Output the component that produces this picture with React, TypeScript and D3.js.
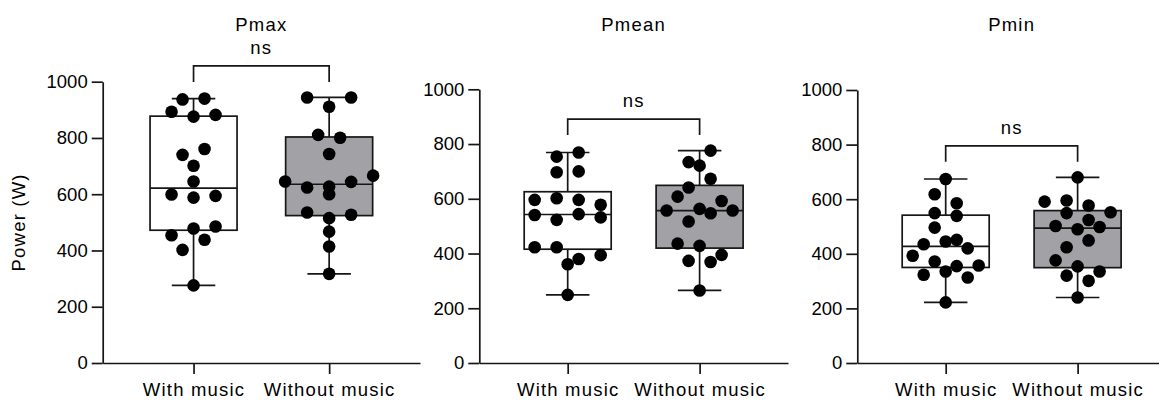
import React, { useEffect, useRef } from 'react';
import { select, scaleLinear, scalePoint, axisLeft, axisBottom, ascending, max } from 'd3';

const groups = ['With music', 'Without music'];
const panelTitles = ['Pmax', 'Pmean', 'Pmin'];
const sigLabels = ['ns', 'ns', 'ns'];
const yTicks = [0, 200, 400, 600, 800, 1000];
const yLabel = 'Power (W)';

// raw values per subject
const pmaxWith = [937, 940, 893, 876, 882, 740, 761, 701, 645, 599, 588, 594, 454, 478, 485, 402, 438, 276];
const pmaxWithout = [944, 911, 944, 811, 801, 743, 645, 624, 627, 644, 666, 600, 535, 515, 527, 467, 414, 317];
const pmeanWith = [754, 769, 697, 700, 596, 602, 596, 578, 541, 523, 544, 532, 423, 423, 380, 394, 361, 249];
const pmeanWithout = [734, 776, 721, 641, 673, 608, 563, 592, 557, 517, 547, 557, 436, 428, 395, 373, 369, 265];
const pminWith = [674, 618, 585, 549, 539, 496, 435, 445, 451, 420, 393, 372, 355, 357, 323, 335, 313, 222];
const pminWithout = [680, 591, 595, 577, 549, 552, 524, 502, 490, 498, 424, 449, 376, 354, 335, 320, 301, 240];

const panelData = [
  [pmaxWith, pmaxWithout],
  [pmeanWith, pmeanWithout],
  [pminWith, pminWithout],
];

// layout of each panel (plot frame in px)
const frames = [
  { left: 102.7, right: 420, top: 81.7, bottom: 363 },
  { left: 479.3, right: 788, top: 89.3, bottom: 363 },
  { left: 857.3, right: 1166, top: 90, bottom: 363 },
];

const W = 1159;
const H = 401;
const font = '"Liberation Sans", Arial, sans-serif';
const ink = '#161616';
const boxFills = ['#ffffff', '#a2a2a6'];
const dotR = 6.3;
const laneStep = 22;
const boxW = 87;

// GraphPad style quantile ((n+1)p)
const quant = (sorted: number[], p: number) => {
  const pos = p * (sorted.length + 1) - 1;
  const lo = Math.max(0, Math.min(sorted.length - 1, Math.floor(pos)));
  const hi = Math.min(sorted.length - 1, lo + 1);
  const t = Math.max(0, pos - Math.floor(pos));
  return sorted[lo] + (sorted[hi] - sorted[lo]) * t;
};

// simple row-binned swarm: rows of points closer than one diameter are spread symmetrically
const swarm = (values: number[], y: (v: number) => number) => {
  const order = values.map((_, i) => i).sort((a, b) => values[b] - values[a]);
  const off = new Array(values.length).fill(0);
  let k = 0;
  while (k < order.length) {
    const start = y(values[order[k]]);
    const row = [order[k]];
    k++;
    while (k < order.length && y(values[order[k]]) - start < 12.4) {
      row.push(order[k]);
      k++;
    }
    row.sort((a, b) => a - b);
    row.forEach((id, j) => (off[id] = (j - (row.length - 1) / 2) * laneStep));
  }
  return off;
};

export default function App() {
  const ref = useRef<SVGSVGElement>(null);

  useEffect(() => {
    const svg = select(ref.current);
    svg.selectAll('*').remove();

    frames.forEach((f, pi) => {
      const g = svg.append('g');
      const yScale = scaleLinear().domain([0, 1000]).range([f.bottom, f.top]);
      const xScale = scalePoint<string>().domain(groups).range([f.left, f.right]).padding(0.67);

      // y axis
      const yAxis = axisLeft(yScale)
        .tickValues(yTicks)
        .tickFormat((d) => String(d))
        .tickSize(11)
        .tickSizeOuter(0)
        .tickPadding(4);
      const ya = g.append('g').attr('transform', `translate(${f.left},0)`).call(yAxis);
      // x axis
      const xAxis = axisBottom(xScale).tickSize(11).tickSizeOuter(0).tickPadding(9);
      const xa = g.append('g').attr('transform', `translate(0,${f.bottom})`).call(xAxis);
      [ya, xa].forEach((a) => {
        a.select('.domain').attr('stroke', ink).attr('stroke-width', 1.7);
        a.selectAll('line').attr('stroke', ink).attr('stroke-width', 1.7);
        a.selectAll('text').attr('fill', '#000').style('font-size', '18.5px').style('font-family', font);
      });
      xa.selectAll('text').style('letter-spacing', '1.2px');

      // title
      g.append('text')
        .attr('x', (f.left + f.right) / 2)
        .attr('y', 30.5)
        .attr('text-anchor', 'middle')
        .style('font-family', font)
        .style('font-size', '18.5px')
        .style('letter-spacing', '1.2px')
        .text(panelTitles[pi]);

      // boxes, whiskers, dots
      panelData[pi].forEach((vals, gi) => {
        const cx = xScale(groups[gi]) as number;
        const sorted = [...vals].sort(ascending);
        const q1 = quant(sorted, 0.25);
        const med = quant(sorted, 0.5);
        const q3 = quant(sorted, 0.75);
        const lo = sorted[0];
        const hi = sorted[sorted.length - 1];

        const bx = g.append('g').attr('stroke', ink).attr('stroke-width', 1.7);
        bx.append('line').attr('x1', cx).attr('x2', cx).attr('y1', yScale(hi)).attr('y2', yScale(q3));
        bx.append('line').attr('x1', cx).attr('x2', cx).attr('y1', yScale(q1)).attr('y2', yScale(lo));
        bx.append('line').attr('x1', cx - boxW / 4).attr('x2', cx + boxW / 4).attr('y1', yScale(hi)).attr('y2', yScale(hi));
        bx.append('line').attr('x1', cx - boxW / 4).attr('x2', cx + boxW / 4).attr('y1', yScale(lo)).attr('y2', yScale(lo));
        bx.append('rect')
          .attr('x', cx - boxW / 2)
          .attr('width', boxW)
          .attr('y', yScale(q3))
          .attr('height', yScale(q1) - yScale(q3))
          .attr('fill', boxFills[gi]);
        bx.append('line').attr('x1', cx - boxW / 2).attr('x2', cx + boxW / 2).attr('y1', yScale(med)).attr('y2', yScale(med));

        const off = swarm(vals, yScale);
        g.append('g')
          .selectAll('circle')
          .data(vals)
          .join('circle')
          .attr('cx', (d, i) => cx + off[i])
          .attr('cy', (d) => yScale(d))
          .attr('r', dotR)
          .attr('fill', '#000');
      });

      // significance bracket
      const top = max(panelData[pi].flat()) as number;
      const legEnd = yScale(top) - 15.5;
      const barY = legEnd - 16;
      const x1 = xScale(groups[0]) as number;
      const x2 = xScale(groups[1]) as number;
      g.append('path')
        .attr('d', `M${x1},${legEnd}V${barY}H${x2}V${legEnd}`)
        .attr('fill', 'none')
        .attr('stroke', ink)
        .attr('stroke-width', 1.7);
      g.append('text')
        .attr('x', (x1 + x2) / 2)
        .attr('y', barY - 12)
        .attr('text-anchor', 'middle')
        .style('font-family', font)
        .style('font-size', '18.5px')
        .style('letter-spacing', '1.2px')
        .text(sigLabels[pi]);
    });

    // shared y label
    svg.append('text')
      .attr('transform', `translate(25,${(frames[0].top + frames[0].bottom) / 2}) rotate(-90)`)
      .attr('text-anchor', 'middle')
      .style('font-family', font)
      .style('font-size', '18.5px')
      .style('letter-spacing', '1.2px')
      .text(yLabel);
  }, []);

  return (
    <svg
      ref={ref}
      width={W}
      height={H}
      style={{ position: 'absolute', left: 0, top: 0, background: '#fff' }}
    />
  );
}
